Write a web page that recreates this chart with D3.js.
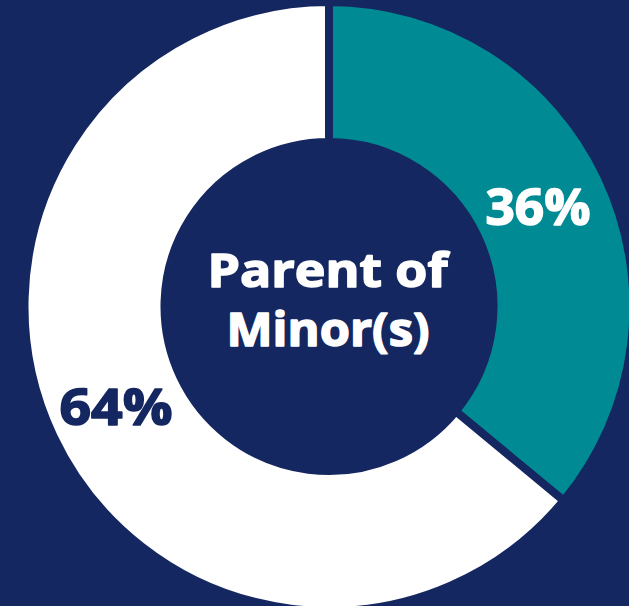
<!DOCTYPE html>
<html><head><meta charset="utf-8">
<script src="https://cdn.jsdelivr.net/npm/d3@7"></script>
<style>html,body{margin:0;padding:0;background:#152760;overflow:hidden}</style>
</head><body>
<svg id="c" width="629" height="606"></svg>
<script>
const categories = ["Parent of Minor(s)", "Other"];
const values = [36, 64];
const labels = ["36%", "64%"];
const centerLines = ["Parent of", "Minor(s)"];

const W = 629, H = 606;
const navy = "#152760", teal = "#008a93", white = "#ffffff";
const svg = d3.select("#c");
svg.append("rect").attr("width", W).attr("height", H).attr("fill", navy);

const cx = 329, cy = 306.5, rOuter = 304.5, rInner = 164.5;
const g = svg.append("g").attr("transform", `translate(${cx},${cy})`);
const pie = d3.pie().sort(null).value(d => d);
const arcs = pie(values);
const arc = d3.arc().innerRadius(rInner).outerRadius(rOuter);
const color = d3.scaleOrdinal().domain(categories).range([teal, white]);

g.selectAll("path").data(arcs).join("path")
  .attr("d", arc)
  .attr("fill", (d, i) => color(categories[i]))
  .attr("stroke", navy).attr("stroke-width", 8).attr("stroke-linejoin", "miter");

const font = "'Open Sans', 'DejaVu Sans', sans-serif";
const labelPos = [
  {x: 538 - cx, y: 224.5 - cy, w: 105, fill: white},
  {x: 116 - cx, y: 424.5 - cy, w: 113, fill: navy}
];
g.selectAll("text.lbl").data(arcs).join("text")
  .attr("class", "lbl")
  .attr("x", (d, i) => labelPos[i].x)
  .attr("y", (d, i) => labelPos[i].y)
  .attr("text-anchor", "middle")
  .attr("font-family", font).attr("font-weight", 700).attr("font-size", 50)
  .attr("fill", (d, i) => labelPos[i].fill)
  .attr("stroke", (d, i) => labelPos[i].fill).attr("stroke-width", 1.6)
  .attr("stroke-linejoin", "round")
  .attr("textLength", (d, i) => labelPos[i].w)
  .attr("lengthAdjust", "spacingAndGlyphs")
  .text((d, i) => labels[i]);

const cPos = [{y: 286.5 - cy, w: 240, x: 327.5 - cx}, {y: 345.5 - cy, w: 203, x: 328 - cx}];
g.selectAll("text.ctr").data(centerLines).join("text")
  .attr("class", "ctr")
  .attr("x", (d, i) => cPos[i].x)
  .attr("y", (d, i) => cPos[i].y)
  .attr("text-anchor", "middle")
  .attr("font-family", font).attr("font-weight", 700).attr("font-size", 46)
  .attr("fill", white)
  .attr("stroke", white).attr("stroke-width", 1.5).attr("stroke-linejoin", "round")
  .attr("textLength", (d, i) => cPos[i].w)
  .attr("lengthAdjust", "spacingAndGlyphs")
  .text(d => d);
</script>
</body></html>
